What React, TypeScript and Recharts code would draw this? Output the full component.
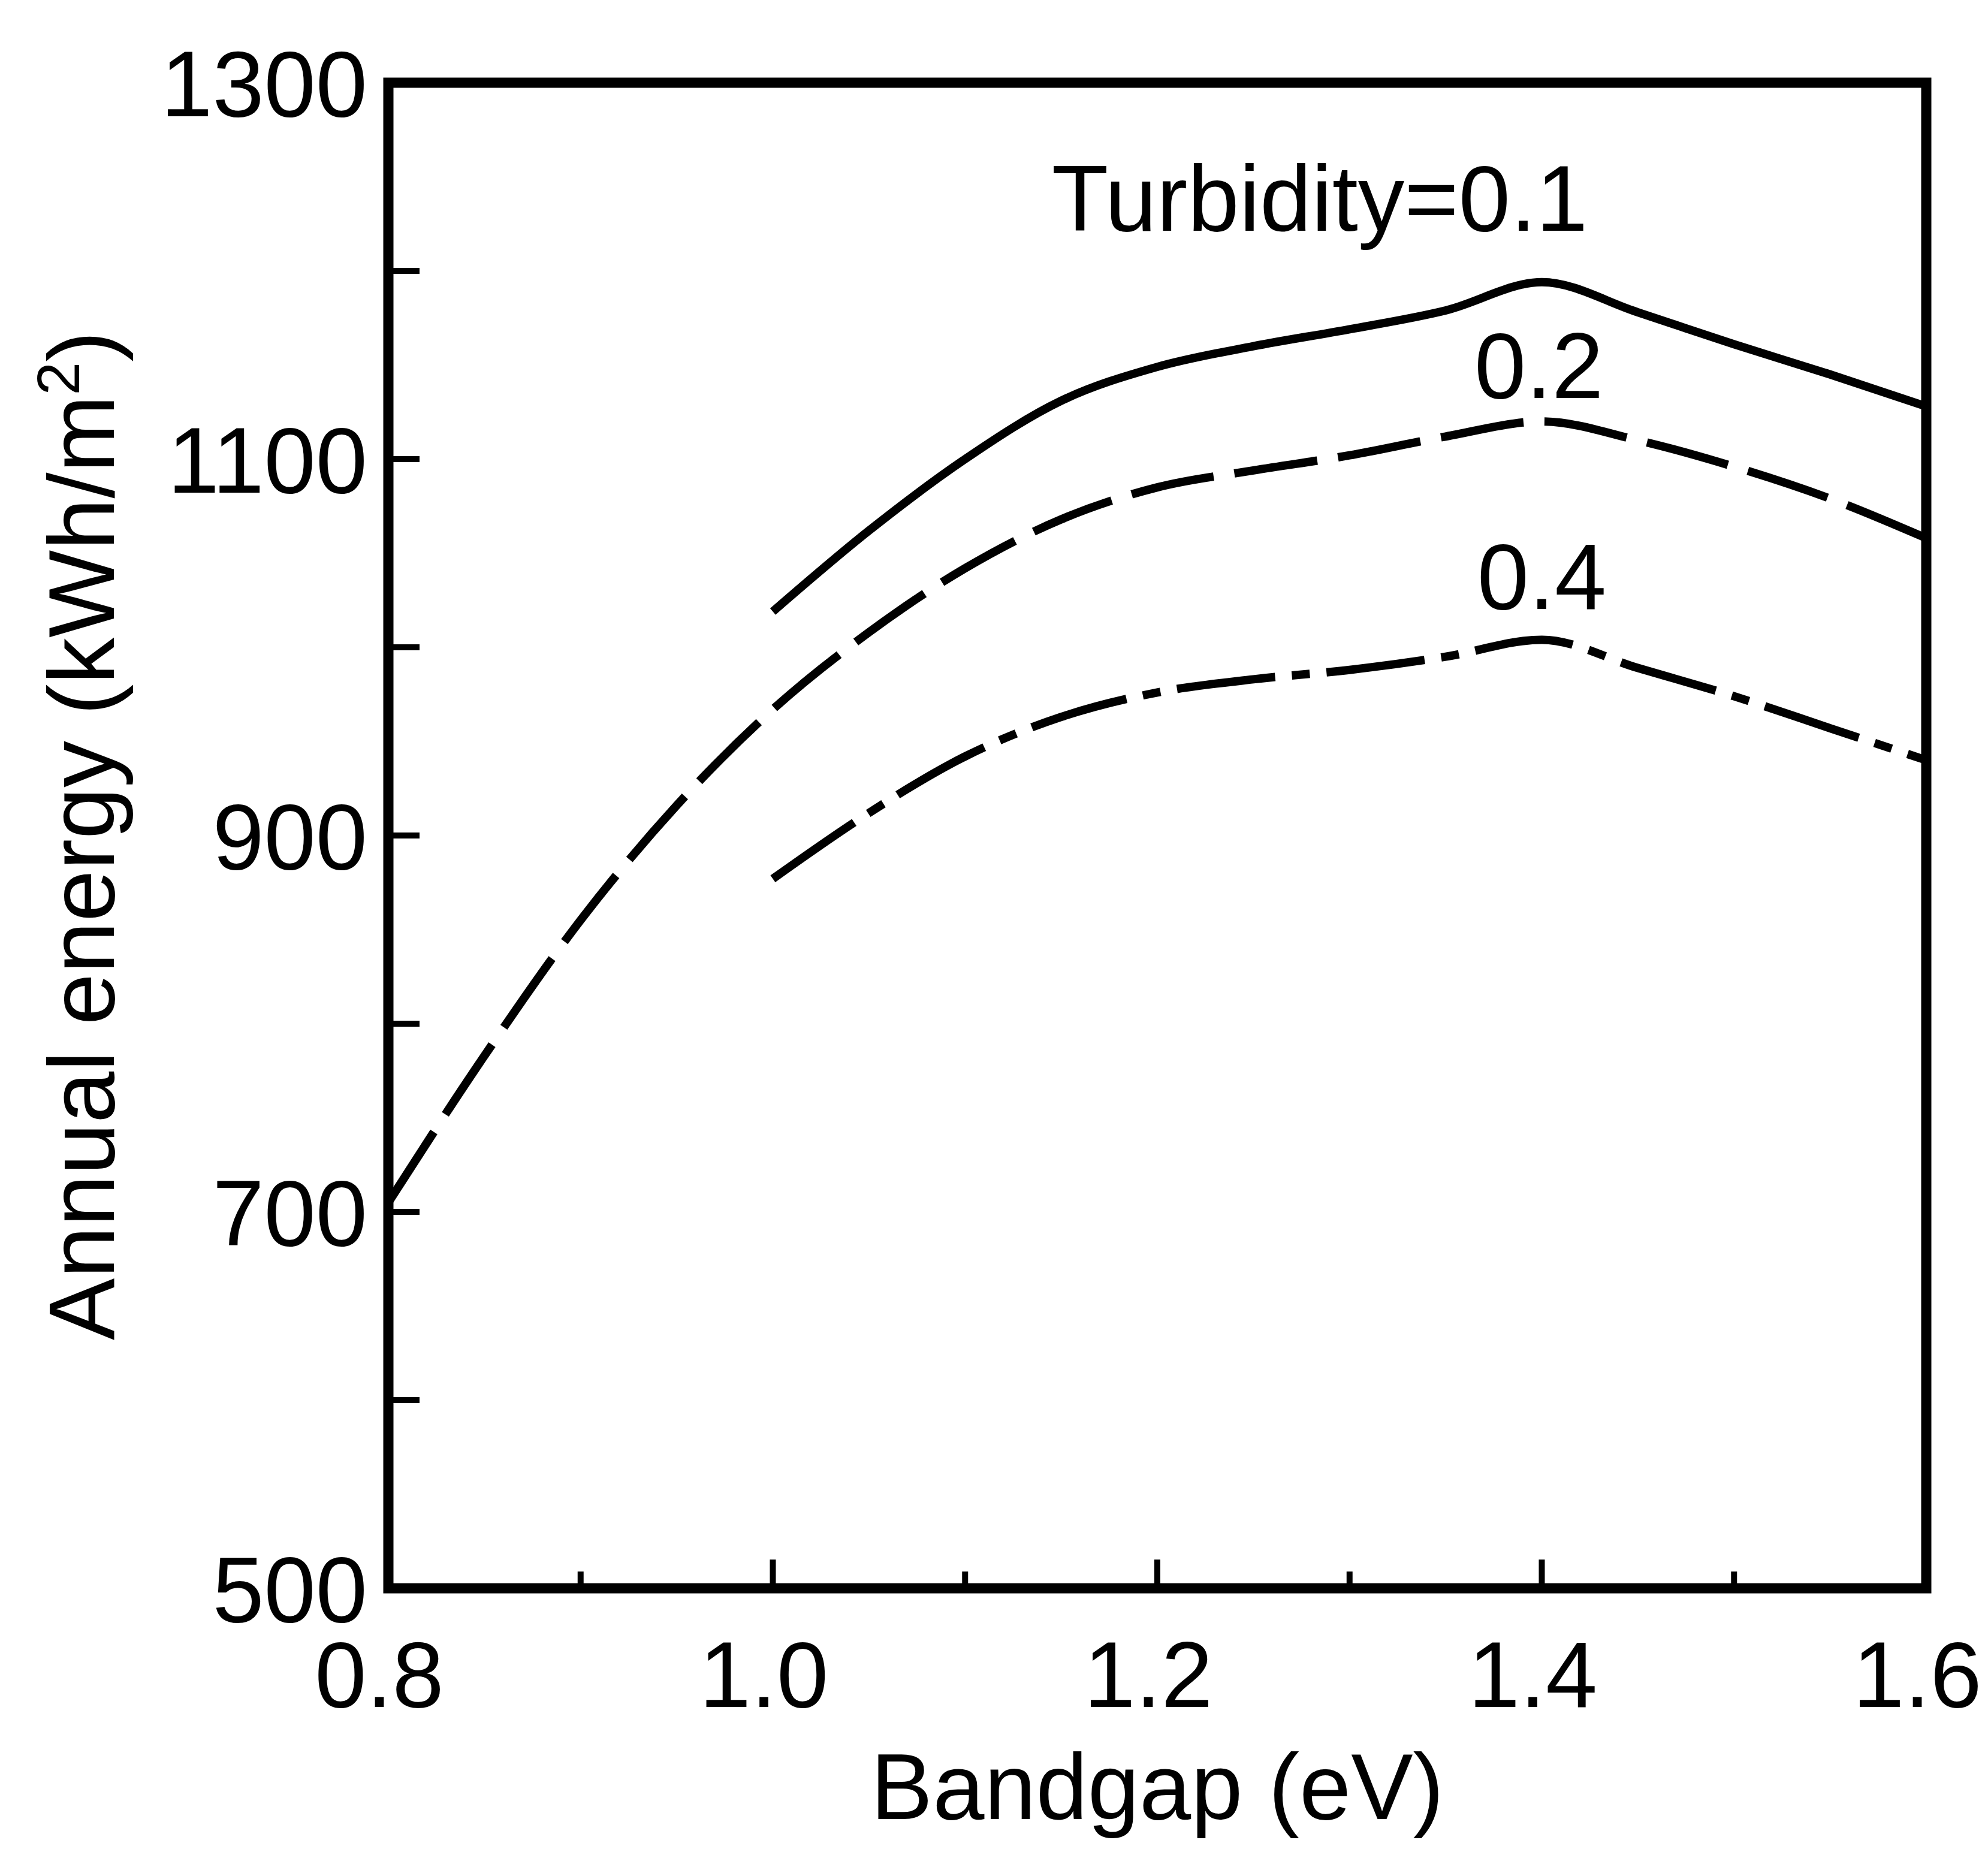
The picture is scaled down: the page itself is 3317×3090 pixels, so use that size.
import { LineChart, Line, XAxis, YAxis, ReferenceArea, ReferenceDot, Label } from "recharts";

// bandgap (eV) and annual energy (kWh/m2) per turbidity
const bandgap = [0.8, 0.85, 0.9, 0.95, 1.0, 1.05, 1.1, 1.15, 1.2, 1.25, 1.3, 1.35, 1.4, 1.45, 1.5, 1.55, 1.6];
const turbidity01 = [null, null, null, null, 1019, 1062, 1100, 1131, 1149, 1160, 1169, 1179, 1194, 1178, 1161, 1145, 1128];
const turbidity02 = [705, 783, 855, 916, 967, 1008, 1042, 1068, 1085, 1094, 1102, 1112, 1120, 1110, 1096, 1079, 1058];
const turbidity04 = [null, null, null, null, 877, 912, 942, 963, 976, 983, 988, 995, 1004, 989, 974, 957, 940];

const xTicks = [0.8, 0.9, 1.0, 1.1, 1.2, 1.3, 1.4, 1.5, 1.6];
const yTicks = [500, 600, 700, 800, 900, 1000, 1100, 1200, 1300];

const curveLabels = [
  { x: 1.2845, y: 1239, text: "Turbidity=0.1" },
  { x: 1.3985, y: 1150, text: "0.2" },
  { x: 1.4, y: 1038, text: "0.4" },
];

const data = bandgap.map((b, i) => ({
  bandgap: b,
  t01: turbidity01[i],
  t02: turbidity02[i],
  t04: turbidity04[i],
}));

const FONT = "'Liberation Sans', Arial, Helvetica, sans-serif";
const FS = 155;

const XTick = (props: any) => {
  const { x, y, payload } = props;
  const v = Math.round(payload.value * 10) / 10;
  const major = Math.round(v * 10) % 2 === 0;
  const edge = v === 0.8 || v === 1.6;
  return (
    <g>
      {!edge && (
        <line x1={x} x2={x} y1={y} y2={y - (major ? 48 : 28)} stroke="#000" strokeWidth={10} />
      )}
      {major && (
        <text x={x - 15} y={y + 198} textAnchor="middle" fontSize={FS} fontFamily={FONT} fill="#000">
          {v.toFixed(1)}
        </text>
      )}
    </g>
  );
};

const YTick = (props: any) => {
  const { x, y, payload } = props;
  const v = payload.value;
  const edge = v === 500 || v === 1300;
  const labelled = (v / 100) % 2 === 1;
  return (
    <g>
      {!edge && <line x1={x} x2={x + 52} y1={y} y2={y} stroke="#000" strokeWidth={10} />}
      {labelled && (
        <text x={x - 35} y={y} dy="0.36em" textAnchor="end" fontSize={FS} fontFamily={FONT} fill="#000">
          {v}
        </text>
      )}
    </g>
  );
};

const XTitle = (props: any) => {
  const { x, y, width } = props.viewBox;
  return (
    <text x={x + width / 2} y={y + 385} textAnchor="middle" fontSize={FS} fontFamily={FONT} fill="#000">
      Bandgap (eV)
    </text>
  );
};

const YTitle = (props: any) => {
  const { y, height } = props.viewBox;
  const cx = 190;
  const cy = y + height / 2;
  return (
    <text
      x={cx}
      y={cy}
      transform={`rotate(-90, ${cx}, ${cy})`}
      textAnchor="middle"
      fontSize={FS}
      fontFamily={FONT}
      fill="#000"
    >
      <tspan>Annual energy (kWh/m</tspan>
      <tspan dy={-58} fontSize={100}>2</tspan>
      <tspan dy={58}>)</tspan>
    </text>
  );
};

export default function App() {
  return (
    <div style={{ position: "absolute", left: 0, top: 0, background: "#fff" }}>
      <LineChart
        width={3317}
        height={3090}
        data={data}
        margin={{ top: 138, right: 103, bottom: 0, left: 0 }}
      >
        <XAxis
          dataKey="bandgap"
          type="number"
          domain={[0.8, 1.6]}
          ticks={xTicks}
          interval={0}
          height={440}
          axisLine={false}
          tickLine={false}
          tickSize={0}
          tickMargin={0}
          tick={<XTick />}
        >
          <Label content={<XTitle />} />
        </XAxis>
        <YAxis
          type="number"
          domain={[500, 1300]}
          ticks={yTicks}
          interval={0}
          width={648}
          axisLine={false}
          tickLine={false}
          tickSize={0}
          tickMargin={0}
          tick={<YTick />}
        >
          <Label content={<YTitle />} />
        </YAxis>
        <ReferenceArea x1={0.8} x2={1.6} y1={500} y2={1300} fill="none" stroke="#000" strokeWidth={17} />
        <Line
          type="monotone"
          dataKey="t01"
          stroke="#000"
          strokeWidth={14}
          dot={false}
          activeDot={false}
          isAnimationActive={false}
        />
        <Line
          type="monotone"
          dataKey="t02"
          stroke="#000"
          strokeWidth={14}
          strokeDasharray="140 35"
          dot={false}
          activeDot={false}
          isAnimationActive={false}
        />
        <Line
          type="monotone"
          dataKey="t04"
          stroke="#000"
          strokeWidth={14}
          strokeDasharray="165 28 30 28"
          dot={false}
          activeDot={false}
          isAnimationActive={false}
        />
        {curveLabels.map((c) => (
          <ReferenceDot key={c.text} x={c.x} y={c.y} r={0} fill="none" stroke="none">
            <Label value={c.text} position="center" fontSize={FS} fontFamily={FONT} fill="#000" />
          </ReferenceDot>
        ))}
      </LineChart>
    </div>
  );
}
